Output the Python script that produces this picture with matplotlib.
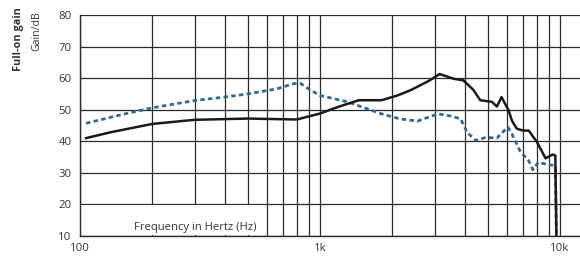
import matplotlib
matplotlib.use("Agg")
import matplotlib.pyplot as plt
from matplotlib.patches import Rectangle

plt.rcParams['font.family'] = ['Open Sans', 'DejaVu Sans']

# Solid curve (black)
solid_freq = [106, 133, 200, 300, 500, 800, 1000, 1200, 1450, 1800, 2100, 2400, 2850,
              3150, 3600, 3950, 4350, 4650, 5200, 5450, 5700, 6100, 6300, 6600, 7000,
              7400, 8000, 8700, 9300, 9550, 9650]
solid_db = [41, 42.8, 45.5, 46.8, 47.2, 46.9, 48.8, 51, 53, 53, 54.5, 56.3, 59.2,
            61.3, 59.8, 59.3, 56.3, 53, 52.5, 51, 54, 49.8, 46.5, 44, 43.4,
            43.4, 39.8, 34.6, 35.8, 35.5, 10]

# Dotted curve (blue)
dot_freq = [106, 150, 200, 300, 400, 500, 660, 780, 830, 900, 1000, 1300, 1800, 2150,
            2550, 3100, 3500, 3850, 4100, 4450, 4900, 5450, 6050, 6300, 6800, 7400,
            7700, 8100, 9100, 9550, 9650]
dot_db = [45.7, 48.5, 50.6, 52.9, 54, 55, 56.6, 58.3, 58.3, 56.5, 54.5, 52.5, 48.7, 47.1,
          46.4, 48.7, 48, 47.1, 42.8, 40.3, 41.2, 41, 44.5, 42.3, 37, 33.8,
          31, 33.3, 32.5, 32.3, 10]

x_major = [100, 1000, 10000]
x_major_labels = ['100', '1k', '10k']
x_minor = [200, 300, 400, 500, 600, 700, 800, 900,
           2000, 3000, 4000, 5000, 6000, 7000, 8000, 9000]
y_ticks = [10, 20, 30, 40, 50, 60, 70, 80]

fig = plt.figure(figsize=(5.8, 2.6), dpi=100)
ax = fig.add_axes([80/580, 1-236/260, 1-80/580, (236-15)/260])

ax.set_xscale('log')
ax.set_xlim(100, 12100)
ax.set_ylim(10, 80)

ax.set_xticks(x_major)
ax.set_xticklabels(x_major_labels)
ax.set_xticks(x_minor, minor=True)
ax.set_xticklabels([], minor=True)
ax.set_yticks(y_ticks)
ax.tick_params(axis='both', which='both', length=0, labelsize=8.2, colors='#333333')
ax.tick_params(axis='y', pad=6)
ax.tick_params(axis='x', pad=5)

ax.set_axisbelow(True)
ax.grid(True, which='both', color='#2b2b2b', lw=0.9)

for s in ['top', 'right']:
    ax.spines[s].set_visible(False)
for s in ['left', 'bottom']:
    ax.spines[s].set_color('#2b2b2b')
    ax.spines[s].set_linewidth(1.0)

# white box masking grid behind the axis caption
ax.add_patch(Rectangle((100, 10.2), 590 - 100, 19.8 - 10.2, facecolor='white',
                       edgecolor='none', zorder=1))
ax.text(168, 12.8, 'Frequency in Hertz (Hz)', fontsize=8.1, color='#333333',
        ha='left', va='center', zorder=3)

ax.plot(dot_freq, dot_db, color='#2f6996', lw=2.0, ls=(0, (1.6, 1.2)), zorder=4)
ax.plot(solid_freq, solid_db, color='#1a1a1a', lw=1.8, zorder=5)

fig.text(18/580, 1-39/260, 'Full-on gain', rotation=90, fontsize=7.8, fontweight='bold',
         color='#333333', ha='center', va='center')
fig.text(37/580, 1-31/260, 'Gain/dB', rotation=90, fontsize=7.6,
         color='#333333', ha='center', va='center')

fig.savefig('out.png', dpi=100)
